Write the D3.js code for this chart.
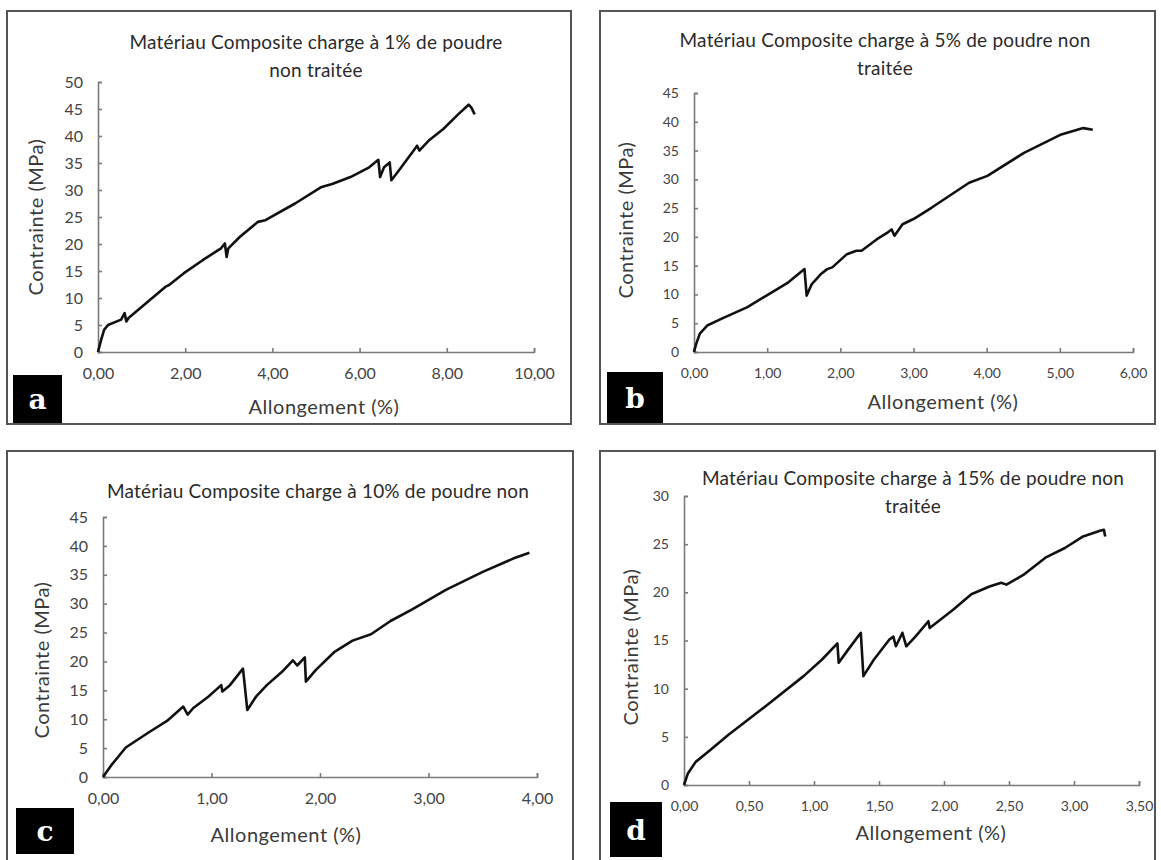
<!DOCTYPE html>
<html>
<head>
<meta charset="utf-8">
<script src="https://cdn.jsdelivr.net/npm/d3@7"></script>
<style>
  body { margin: 0; background: #fff; }
  svg { display: block; }
  .title { font-family: Lato, "Open Sans", sans-serif; font-size: 19px; letter-spacing: 0.2px; fill: #2a2a2a; }
  .axis-title { font-family: Lato, "Open Sans", sans-serif; font-size: 20px; letter-spacing: 0.5px; fill: #3a3a3a; }
  .tick text { font-family: Lato, "Open Sans", sans-serif; fill: #444; }
  .tag { font-family: "DejaVu Serif", "Liberation Serif", serif; font-weight: bold; font-size: 28px; fill: #fff; }
</style>
</head>
<body>
<svg width="1161" height="860"></svg>
<script>
const svg = d3.select("svg");

// data: [allongement %, contrainte MPa]
const curveA = [[0,0],[0.07,2.2],[0.14,4.1],[0.23,5.0],[0.53,6.0],[0.61,7.2],[0.65,5.65],[0.70,6.3],
  [1.55,12.1],[1.63,12.4],[1.97,14.6],[2.40,17.0],[2.82,19.2],[2.91,20.1],[2.95,17.6],[2.99,19.2],
  [3.25,21.3],[3.67,24.1],[3.84,24.4],[4.52,27.5],[5.11,30.5],[5.37,31.1],[5.79,32.4],[6.22,34.2],
  [6.43,35.6],[6.47,32.4],[6.56,34.2],[6.69,35.1],[6.73,31.8],[6.90,33.6],[7.24,37.3],[7.32,38.2],
  [7.37,37.3],[7.58,39.1],[7.92,41.3],[8.26,44.0],[8.50,45.8],[8.56,45.3],[8.64,44.0]];
const curveB = [[0,0],[0.03,1.4],[0.08,3.2],[0.18,4.6],[0.38,5.8],[0.73,7.8],[1.03,10.1],[1.29,12.1],
  [1.51,14.4],[1.54,9.8],[1.61,11.8],[1.74,13.6],[1.82,14.4],[1.89,14.7],[2.09,17.0],[2.22,17.6],
  [2.29,17.6],[2.50,19.6],[2.65,20.8],[2.70,21.3],[2.74,20.2],[2.85,22.2],[3.00,23.1],[3.25,25.1],
  [3.76,29.4],[4.01,30.6],[4.51,34.6],[5.02,37.8],[5.32,38.9],[5.45,38.6]];
const curveC = [[0,0],[0.075,2.0],[0.21,5.1],[0.42,7.7],[0.59,9.7],[0.74,12.2],[0.78,10.8],[0.83,11.9],
  [0.97,13.9],[1.09,15.9],[1.10,14.8],[1.17,15.9],[1.29,18.75],[1.33,11.6],[1.41,13.9],[1.51,15.9],
  [1.65,18.2],[1.75,20.2],[1.79,19.3],[1.86,20.7],[1.87,16.5],[1.96,18.5],[2.13,21.6],[2.30,23.6],
  [2.47,24.7],[2.65,27.0],[2.85,29.0],[3.16,32.4],[3.50,35.5],[3.78,37.8],[3.93,38.8]];
const curveD = [[0,0],[0.03,1.2],[0.09,2.4],[0.20,3.6],[0.34,5.2],[0.63,8.2],[0.92,11.3],[1.06,13.0],
  [1.18,14.7],[1.19,12.7],[1.26,14.0],[1.36,15.8],[1.38,11.3],[1.46,13.0],[1.58,15.1],[1.61,15.4],
  [1.63,14.4],[1.68,15.8],[1.71,14.4],[1.78,15.4],[1.88,17.0],[1.89,16.3],[2.07,18.2],[2.21,19.8],
  [2.35,20.6],[2.44,21.0],[2.48,20.8],[2.61,21.8],[2.78,23.6],[2.93,24.6],[3.07,25.8],[3.20,26.4],
  [3.23,26.5],[3.24,25.8]];

const xTicksA = [0, 2, 4, 6, 8, 10];
const xTicksB = [0, 1, 2, 3, 4, 5, 6];
const xTicksC = [0, 1, 2, 3, 4];
const xTicksD = [0, 0.5, 1, 1.5, 2, 2.5, 3, 3.5];
const yTicksA = d3.range(0, 51, 5);
const yTicksB = d3.range(0, 46, 5);
const yTicksC = d3.range(0, 46, 5);
const yTicksD = d3.range(0, 31, 5);

const titles = [
  ["Matériau Composite charge à 1% de poudre", "non traitée"],
  ["Matériau Composite charge à 5% de poudre  non", "traitée"],
  ["Matériau Composite charge à 10% de poudre non"],
  ["Matériau Composite charge à 15% de poudre  non", "traitée"]
];
const tags = ["a", "b", "c", "d"];

// layout of each panel (pixels)
const panels = [
  { curve: curveA, xt: xTicksA, yt: yTicksA, box: [7, 11, 564, 413], x: [98, 534], y: [352, 82],
    title: [316, 49], yl: [36, 217], xl: [324, 414], tag: [13, 375, 49, 48], fs: 16 },
  { curve: curveB, xt: xTicksB, yt: yTicksB, box: [600, 11, 555, 413], x: [694, 1133], y: [352, 93],
    title: [885, 47], yl: [626, 220], xl: [943, 409], tag: [607, 372, 56, 51], fs: 14 },
  { curve: curveC, xt: xTicksC, yt: yTicksC, box: [7, 451, 566, 420], x: [103, 537], y: [777, 517],
    title: [318, 498], yl: [42, 660], xl: [286, 842], tag: [16, 808, 58, 46], fs: 16 },
  { curve: curveD, xt: xTicksD, yt: yTicksD, box: [600, 451, 555, 420], x: [684, 1139], y: [785, 496],
    title: [913, 485], yl: [631, 647], xl: [931, 840], tag: [610, 802, 52, 55], fs: 14 }
];

const fmtX = (d) => d3.format(".2f")(d).replace(".", ",");

panels.forEach((p, i) => {
  const g = svg.append("g");

  g.append("rect")
    .attr("x", p.box[0]).attr("y", p.box[1])
    .attr("width", p.box[2]).attr("height", p.box[3])
    .attr("fill", "none").attr("stroke", "#555").attr("stroke-width", 2);

  const xScale = d3.scaleLinear().domain([0, d3.max(p.xt)]).range(p.x);
  const yScale = d3.scaleLinear().domain([0, d3.max(p.yt)]).range(p.y);

  // axes, ticks point inward
  const xAxisG = g.append("g")
    .attr("transform", `translate(0,${p.y[0]})`)
    .call(d3.axisBottom(xScale).tickValues(p.xt).tickFormat(fmtX).tickSize(-4).tickPadding(16));
  const yAxisG = g.append("g")
    .attr("transform", `translate(${p.x[0]},0)`)
    .call(d3.axisLeft(yScale).tickValues(p.yt).tickSize(-4).tickPadding(15));
  [xAxisG, yAxisG].forEach((a) => {
    a.selectAll("path, line").attr("stroke", "#7a7a7a").attr("stroke-width", 1.6);
    a.selectAll("text").style("font-size", p.fs + "px");
  });

  // curve
  g.append("path")
    .datum(p.curve)
    .attr("fill", "none")
    .attr("stroke", "#111")
    .attr("stroke-width", 2.6)
    .attr("stroke-linejoin", "round")
    .attr("d", d3.line().x((d) => xScale(d[0])).y((d) => yScale(d[1])));

  // title
  titles[i].forEach((t, k) => {
    g.append("text").attr("class", "title")
      .attr("x", p.title[0]).attr("y", p.title[1] + k * 28)
      .attr("text-anchor", "middle").text(t);
  });

  // axis titles
  g.append("text").attr("class", "axis-title")
    .attr("text-anchor", "middle")
    .attr("transform", `translate(${p.yl[0] + 7},${p.yl[1]}) rotate(-90)`)
    .text("Contrainte (MPa)");
  g.append("text").attr("class", "axis-title")
    .attr("text-anchor", "middle")
    .attr("x", p.xl[0]).attr("y", p.xl[1])
    .text("Allongement (%)");

  // panel letter
  g.append("rect")
    .attr("x", p.tag[0]).attr("y", p.tag[1])
    .attr("width", p.tag[2]).attr("height", p.tag[3])
    .attr("fill", "#000");
  g.append("text").attr("class", "tag")
    .attr("x", p.tag[0] + p.tag[2] / 2).attr("y", p.tag[1] + p.tag[3] / 2 + 10)
    .attr("text-anchor", "middle").text(tags[i]);
});
</script>
</body>
</html>
